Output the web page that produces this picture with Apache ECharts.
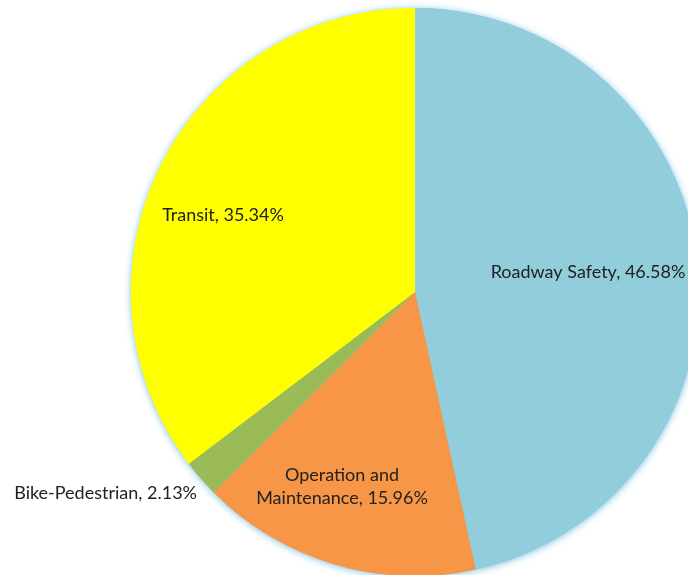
<!DOCTYPE html>
<html>
<head>
<meta charset="utf-8">
<script src="https://cdn.jsdelivr.net/npm/echarts@6/dist/echarts.min.js"></script>
<style>
  html, body { margin: 0; padding: 0; background: #fff; }
  #main { width: 688px; height: 575px; }
</style>
</head>
<body>
<div id="main"></div>
<script>
  // slices, clockwise from 12 o'clock
  var categories = ['Roadway Safety', 'Operation and\nMaintenance', 'Bike-Pedestrian', 'Transit'];
  var shares = [46.58, 15.96, 2.13, 35.34];
  var colors = ['#92CDDC', '#F79646', '#9BBB59', '#FFFF00'];

  // where each label sits (px), Excel-style manual placement
  var labelPos = [
    { x: 588, y: 272, align: 'center' },
    { x: 342, y: 487, align: 'center' },
    { x: 197, y: 493, align: 'right' },
    { x: 223, y: 215, align: 'center' }
  ];

  var pieData = categories.map(function (c, i) {
    return { name: c, value: shares[i], itemStyle: { color: colors[i] } };
  });

  var chart = echarts.init(document.getElementById('main'));
  chart.setOption({
    animation: false,
    series: [
      {
        // soft blue glow behind the whole pie
        type: 'pie',
        silent: true,
        z: 1,
        center: [415, 292],
        radius: 284,
        startAngle: 90,
        clockwise: true,
        label: { show: false },
        labelLine: { show: false },
        itemStyle: { shadowBlur: 7, shadowColor: 'rgba(110,185,225,0.9)', shadowOffsetY: 1 },
        data: pieData
      },
      {
        type: 'pie',
        z: 2,
        center: [415, 292],
        radius: 284,
        startAngle: 90,
        clockwise: true,
        itemStyle: { borderWidth: 0 },
        label: {
          show: true,
          position: 'inside',
          color: '#222',
          fontFamily: 'Lato',
          fontSize: 18,
          lineHeight: 23,
          formatter: function (p) { return p.name + ', ' + p.value.toFixed(2) + '%'; }
        },
        labelLine: { show: false },
        labelLayout: function (p) {
          var lp = labelPos[p.dataIndex];
          return { x: lp.x, y: lp.y, align: lp.align, verticalAlign: 'middle' };
        },
        data: pieData
      }
    ]
  });
</script>
</body>
</html>
